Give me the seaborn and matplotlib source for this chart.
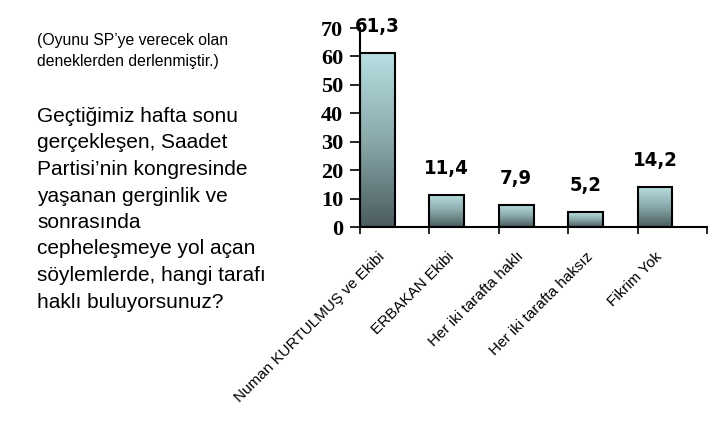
import numpy as np
import pandas as pd
import matplotlib
matplotlib.use("Agg")
import matplotlib.pyplot as plt
import seaborn as sns
from matplotlib.colors import LinearSegmentedColormap

categories = ["Numan KURTULMUŞ ve Ekibi", "ERBAKAN Ekibi", "Her iki tarafta haklı",
              "Her iki tarafta haksız", "Fikrim Yok"]
values = [61.3, 11.4, 7.9, 5.2, 14.2]
value_labels = ["61,3", "11,4", "7,9", "5,2", "14,2"]
y_ticks = [0, 10, 20, 30, 40, 50, 60, 70]
note_text = "(Oyunu SP’ye verecek olan\ndeneklerden derlenmiştir.)"
question_text = ("Geçtiğimiz hafta sonu\ngerçekleşen, Saadet\nPartisi’nin kongresinde\n"
                 "yaşanan gerginlik ve\nsonrasında\ncepheleşmeye yol açan\n"
                 "söylemlerde, hangi tarafı\nhaklı buluyorsunuz?")

sns.set_theme(style="white")
plt.rcParams["font.family"] = ["Liberation Sans", "DejaVu Sans"]
plt.rcParams["text.color"] = "black"
plt.rcParams["xtick.color"] = "black"
plt.rcParams["ytick.color"] = "black"
plt.rcParams["xtick.labelcolor"] = "black"
plt.rcParams["ytick.labelcolor"] = "black"

W, H = 726, 436
fig = plt.figure(figsize=(W / 100, H / 100), dpi=100)
fig.patch.set_facecolor("white")
ax = fig.add_axes([360 / W, 1 - 227 / H, 347 / W, 199 / H])

df = pd.DataFrame({"cat": categories, "val": values})
sns.barplot(data=df, x="cat", y="val", ax=ax, width=0.5, color="white",
            edgecolor="black", linewidth=1.5, zorder=3)

cmap = LinearSegmentedColormap.from_list("g", ["#4b5c5f", "#8aa9ab", "#b8e0e2"])
grad = np.linspace(1, 0, 256).reshape(-1, 1)
for p in ax.patches:
    x0, w, h = p.get_x(), p.get_width(), p.get_height()
    p.set_facecolor("none")
    ax.imshow(grad, extent=[x0, x0 + w, 0, h], origin="upper", cmap=cmap,
              vmin=0, vmax=1, aspect="auto", zorder=2)

ax.set_xlim(-0.25, 4.75)
ax.set_ylim(0, 70)
ax.set_yticks(y_ticks)
ax.set_yticklabels([str(t) for t in y_ticks], family=["Liberation Serif"],
                   fontweight="bold", fontsize=16, color="black")
ax.set_xlabel("")
ax.set_ylabel("")

ax.set_xticks(range(len(categories)))
ax.set_xticklabels(categories, rotation=45, ha="right", rotation_mode="anchor",
                   fontsize=11, color="black")
ax.set_xticks(np.arange(-0.25, 5, 1), minor=True)
ax.tick_params(axis="x", which="major", length=0, pad=16)
ax.tick_params(axis="x", which="minor", bottom=True, length=5, width=1.2,
               direction="out", color="black")
ax.tick_params(axis="y", which="major", left=True, length=7, width=1.2,
               direction="out", color="black", pad=5)

for s in ["top", "right"]:
    ax.spines[s].set_visible(False)
for s in ["left", "bottom"]:
    ax.spines[s].set_color("black")
    ax.spines[s].set_linewidth(1.5)

for i, (v, lbl) in enumerate(zip(values, value_labels)):
    ax.annotate(lbl, (i, v), xytext=(0, 19), textcoords="offset points",
                ha="center", va="center", fontsize=14.5, fontweight="bold",
                family=["DejaVu Sans"], fontstretch="condensed",
                color="black", annotation_clip=False)

fig.text(37 / W, 1 - 33 / H, note_text, ha="left", va="top", fontsize=11.3,
         linespacing=1.5, color="black")
fig.text(37 / W, 1 - 107 / H, question_text, ha="left", va="top", fontsize=15,
         linespacing=1.5, color="black")

fig.savefig("out.png", dpi=100, facecolor="white")
